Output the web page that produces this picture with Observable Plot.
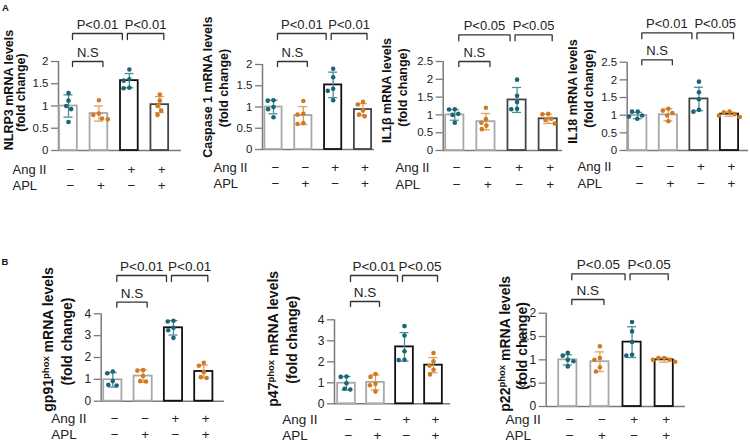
<!DOCTYPE html>
<html><head><meta charset="utf-8">
<script src="https://cdn.jsdelivr.net/npm/d3@7"></script>
<script src="https://cdn.jsdelivr.net/npm/@observablehq/plot@0.6"></script>
<style>
html,body{margin:0;padding:0;background:#fff;}
#wrap{position:relative;width:750px;height:442px;overflow:hidden;background:#fff;}
#wrap svg{position:absolute;left:0;top:0;}
</style></head><body><div id="wrap"></div>
<script>
// ---------- data ----------
const groupIds = [1, 2, 3, 4];
const angIISigns = ["−", "−", "+", "+"];
const aplSigns = ["−", "+", "−", "+"];
const rowLabels = ["Ang II", "APL"];
const comparisons = [[1, 2], [1, 3], [3, 4]];
const comparisonTier = [0, 1, 1];
const subtitleLine = "(fold change)";

const ticks2 = [0, 0.5, 1, 1.5, 2];
const ticks25 = [0, 0.5, 1, 1.5, 2, 2.5];
const ticks4 = [0, 1, 2, 3, 4];

const nlrp3Title = "NLRP3 mRNA levels";
const nlrp3Mean = [1.00, 0.83, 1.57, 1.03];
const nlrp3SD = [0.25, 0.17, 0.16, 0.18];
const nlrp3Dots = [[1.29, 1.12, 1.00, 0.93, 0.64], [1.13, 0.83, 0.80, 0.72, 0.70], [1.82, 1.60, 1.57, 1.41, 1.40], [1.26, 1.12, 1.00, 0.90, 0.80]];
const nlrp3P = ["N.S", "P<0.01", "P<0.01"];

const casp1Title = "Caspase 1 mRNA levels";
const casp1Mean = [1.00, 0.80, 1.52, 0.94];
const casp1SD = [0.16, 0.21, 0.30, 0.14];
const casp1Dots = [[1.16, 1.15, 1.00, 0.95, 0.76], [1.14, 0.84, 0.82, 0.62, 0.60], [1.90, 1.70, 1.43, 1.38, 1.16], [1.12, 1.06, 0.92, 0.82, 0.78]];
const casp1P = ["N.S", "P<0.01", "P<0.01"];

const il1bTitle = "IL1β mRNA levels";
const il1bMean = [1.00, 0.81, 1.42, 0.89];
const il1bSD = [0.15, 0.23, 0.35, 0.13];
const il1bDots = [[1.16, 1.15, 1.03, 1.00, 0.78], [1.20, 0.88, 0.78, 0.70, 0.60], [1.99, 1.54, 1.36, 1.17, 1.16], [1.03, 1.02, 0.89, 0.86, 0.76]];
const il1bP = ["N.S", "P<0.05", "P<0.05"];

const il18Title = "IL18 mRNA levels";
const il18Mean = [0.99, 1.01, 1.46, 1.03];
const il18SD = [0.09, 0.17, 0.33, 0.06];
const il18Dots = [[1.10, 1.10, 0.99, 0.96, 0.90], [1.18, 1.13, 1.06, 0.99, 0.83], [1.95, 1.65, 1.45, 1.15, 1.10], [1.10, 1.08, 1.03, 0.99, 0.95]];
const il18P = ["N.S", "P<0.01", "P<0.05"];

const gp91Title = "gp91phox mRNA levels";
const gp91Mean = [0.98, 1.15, 3.36, 1.36];
const gp91SD = [0.33, 0.29, 0.33, 0.29];
const gp91Dots = [[1.36, 1.28, 0.92, 0.75, 0.72], [1.42, 1.40, 1.15, 0.92, 0.90], [3.68, 3.65, 3.36, 3.25, 2.90], [1.76, 1.62, 1.33, 1.10, 1.06]];
const gp91P = ["N.S", "P<0.01", "P<0.01"];

const p47Title = "p47phox mRNA levels";
const p47Mean = [0.98, 1.02, 2.71, 1.84];
const p47SD = [0.32, 0.36, 0.68, 0.36];
const p47Dots = [[1.30, 1.28, 0.98, 0.72, 0.68], [1.42, 1.28, 0.95, 0.88, 0.58], [3.70, 3.25, 2.50, 2.10, 2.08], [2.42, 2.02, 1.82, 1.62, 1.40]];
const p47P = ["N.S", "P<0.01", "P<0.05"];

const p22Title = "p22phox mRNA levels";
const p22Mean = [1.00, 0.96, 1.38, 1.00];
const p22SD = [0.11, 0.21, 0.33, 0.05];
const p22Dots = [[1.15, 1.09, 1.00, 0.97, 0.86], [1.29, 1.04, 1.00, 0.84, 0.75], [1.81, 1.61, 1.38, 1.11, 1.09], [1.04, 1.04, 1.00, 1.00, 0.96]];
const p22P = ["N.S", "P<0.05", "P<0.05"];

// ---------- styles / layout ----------
const GRAY = "#a8a8a8", BLACK = "#111111", DARK = "#454545";
const TEAL = "#1b6575", TEAL_ERR = "#4a8e9b", ORANGE = "#d17a22", ORANGE_ERR = "#e0a060";
const AXIS = "#7a7a7a", INK = "#222";
const FONT = "'Liberation Sans', Arial, Helvetica, sans-serif";

const panels = [
  {letter: "A", title: nlrp3Title, mean: nlrp3Mean, sd: nlrp3SD, dots: nlrp3Dots, p: nlrp3P, ticks: ticks2, yMax: 2,
   L: 58, R: 181, y0: 150, yTop: 61, c1: 68, c4: 159.3, barW: 19.5, nsY: 61, pY: 33, rowY: [169, 185], rowX: 12,
   lab: [8.7, 89.5, 20.8, 92], labSize: 12.5, tickSize: 11.5, textSize: 13, signSize: 13.5, strokes: [GRAY, GRAY, BLACK, DARK], letterPos: [5, 7]},
  {title: casp1Title, mean: casp1Mean, sd: casp1SD, dots: casp1Dots, p: casp1P, ticks: ticks2, yMax: 2,
   L: 262, R: 374, y0: 149, yTop: 64, c1: 273, c4: 362.5, barW: 19, nsY: 61, pY: 33, rowY: [167, 183], rowX: 213,
   lab: [207, 86.7, 223.7, 87.5], labSize: 12.5, tickSize: 11.5, textSize: 13, signSize: 13.5, strokes: [GRAY, GRAY, BLACK, DARK]},
  {title: il1bTitle, mean: il1bMean, sd: il1bSD, dots: il1bDots, p: il1bP, ticks: ticks25, yMax: 2.5,
   L: 442.7, R: 562, y0: 150, yTop: 61, c1: 454.3, c4: 547.7, barW: 20, nsY: 61, pY: 34.3, rowY: [167, 184], rowX: 395,
   lab: [386.7, 90, 402, 87], labSize: 12.5, tickSize: 11.5, textSize: 13, signSize: 13.5, strokes: [GRAY, GRAY, DARK, DARK]},
  {title: il18Title, mean: il18Mean, sd: il18SD, dots: il18Dots, p: il18P, ticks: ticks25, yMax: 2.5,
   L: 626.7, R: 748, y0: 150, yTop: 61.7, c1: 637.3, c4: 729, barW: 20, nsY: 59.3, pY: 32.3, rowY: [166, 183], rowX: 577,
   lab: [572.3, 91, 588, 88], labSize: 12.5, tickSize: 11.5, textSize: 13, signSize: 13.5, strokes: [GRAY, GRAY, DARK, BLACK]},
  {letter: "B", title: gp91Title, mean: gp91Mean, sd: gp91SD, dots: gp91Dots, p: gp91P, ticks: ticks4, yMax: 4,
   L: 100.7, R: 224, y0: 400.7, yTop: 313.3, c1: 112.3, c4: 203.3, barW: 20, nsY: 301.7, pY: 275, rowY: [418.5, 434.5], rowX: 50.7,
   lab: [48.3, 339, 66.7, 341], labSize: 14, tickSize: 12, textSize: 13.5, signSize: 13.5, strokes: [GRAY, GRAY, BLACK, BLACK], letterPos: [4.5, 261.5]},
  {title: p47Title, mean: p47Mean, sd: p47SD, dots: p47Dots, p: p47P, ticks: ticks4, yMax: 4,
   L: 334, R: 450, y0: 403.3, yTop: 319.3, c1: 346, c4: 433, barW: 19.5, nsY: 301, pY: 275, rowY: [419, 435], rowX: 281.7,
   lab: [273.3, 338.3, 291.7, 339.2], labSize: 14, tickSize: 12, textSize: 13.5, signSize: 13.5, strokes: [GRAY, GRAY, BLACK, BLACK]},
  {title: p22Title, mean: p22Mean, sd: p22SD, dots: p22Dots, p: p22P, ticks: ticks2, yMax: 2,
   L: 545.7, R: 685, y0: 406, yTop: 312.7, c1: 567.3, c4: 663.7, barW: 20, nsY: 299, pY: 273.3, rowY: [419, 435], rowX: 505,
   lab: [505, 343.3, 522.3, 345.5], labSize: 14, tickSize: 12, textSize: 13.5, signSize: 13.5, strokes: [GRAY, GRAY, BLACK, BLACK]}
];

// deterministic beeswarm offsets (pixels) so dots do not overlap
function swarm(values, ppu, D) {
  const order = values.map((v, i) => i).sort((a, b) => values[b] - values[a]);
  const placed = [], off = new Array(values.length);
  for (const i of order) {
    const py = -values[i] * ppu;
    const iv = [];
    for (const p of placed) {
      const dy = py - p.py;
      if (Math.abs(dy) < D) { const w = Math.sqrt(D * D - dy * dy); iv.push([p.px - w, p.px + w]); }
    }
    const cands = [0].concat(iv.flatMap(([a, b]) => [a, b])).sort((a, b) => Math.abs(a) - Math.abs(b));
    const px = cands.find(c => iv.every(([a, b]) => c <= a + 1e-6 || c >= b - 1e-6));
    placed.push({px, py}); off[i] = px;
  }
  return off;
}

const wrap = document.getElementById("wrap");

for (const P of panels) {
  const s = (P.c4 - P.c1) / 3;               // pixels per group step
  const xDom = [1 - (P.c1 - P.L) / s, 4 + (P.R - P.c4) / s];
  const ppu = (P.y0 - P.yTop) / P.yMax;       // pixels per y unit
  const yAt = px => (P.y0 - px) / ppu;        // pixel row -> y value
  const ux = px => px / s;                    // pixel length -> x units
  const hw = ux(P.barW / 2 - 0.9);
  const cap = ux(4.5);

  const bars = groupIds.map((g, i) => ({
    g, mean: P.mean[i], sd: P.sd[i], stroke: P.strokes[i],
    err: i % 2 ? ORANGE_ERR : TEAL_ERR
  }));

  const dots = [];
  groupIds.forEach((g, i) => {
    const off = swarm(P.dots[i], ppu, 5.8);
    P.dots[i].forEach((v, j) => dots.push({x: g + ux(off[j]), v, fill: i % 2 ? ORANGE : TEAL}));
  });

  const brackets = comparisons.map(([a, b], k) => {
    const another = comparisons.some(([a2]) => a2 === b);
    const endsHere = comparisons.some(([, b2]) => b2 === a);
    const xa = a + ux(endsHere ? -2 : 4);
    const xb = b + ux(another ? -7 : 4);
    const tier = comparisonTier[k];
    const lineY = tier === 0 ? P.nsY : P.pY;
    const legY = lineY + (tier === 0 ? 5 : 6);
    return {k, xa, xb, yLine: yAt(lineY), yLeg: yAt(legY), label: P.p[k], mid: (xa + xb) / 2};
  });
  const bracketPts = brackets.flatMap(b => [
    {id: b.k, x: b.xa, y: b.yLeg}, {id: b.k, x: b.xa, y: b.yLine},
    {id: b.k, x: b.xb, y: b.yLine}, {id: b.k, x: b.xb, y: b.yLeg}
  ]);

  const txt = {fill: INK, lineAnchor: "middle"};
  const marks = [
    Plot.ruleY([0], {stroke: AXIS, strokeWidth: 1.5}),
    Plot.ruleX([xDom[0]], {y1: 0, y2: P.yMax, stroke: AXIS, strokeWidth: 1.5}),
    Plot.rect(bars, {x1: d => d.g - hw, x2: d => d.g + hw, y1: 0, y2: "mean", fill: "white", stroke: "stroke", strokeWidth: 1.8}),
    Plot.ruleX(bars, {x: "g", y1: d => d.mean - d.sd, y2: d => d.mean + d.sd, stroke: "err", strokeWidth: 1.3}),
    Plot.ruleY(bars, {y: d => d.mean + d.sd, x1: d => d.g - cap, x2: d => d.g + cap, stroke: "err", strokeWidth: 1.3}),
    Plot.ruleY(bars, {y: d => d.mean - d.sd, x1: d => d.g - cap, x2: d => d.g + cap, stroke: "err", strokeWidth: 1.3}),
    Plot.dot(dots, {x: "x", y: "v", r: 2.3, fill: "fill", stroke: null}),
    Plot.line(bracketPts, {x: "x", y: "y", z: "id", stroke: "#333", strokeWidth: 1.3, strokeLinejoin: "miter", curve: "linear"}),
    Plot.text(brackets, {x: "mid", y: "yLine", text: "label", dy: -4.5, lineAnchor: "bottom", textAnchor: "middle", fontSize: P.textSize, fill: INK}),
    Plot.text(groupIds, {...txt, x: d => d, text: (d, i) => angIISigns[i], frameAnchor: "bottom", textAnchor: "middle", dx: 2, dy: P.rowY[0] - P.y0, fontSize: P.signSize}),
    Plot.text(groupIds, {...txt, x: d => d, text: (d, i) => aplSigns[i], frameAnchor: "bottom", textAnchor: "middle", dx: 2, dy: P.rowY[1] - P.y0, fontSize: P.signSize}),
    Plot.text([rowLabels[0]], {...txt, frameAnchor: "bottom-left", dx: P.rowX - P.L, dy: P.rowY[0] - P.y0, textAnchor: "start", fontSize: P.textSize}),
    Plot.text([rowLabels[1]], {...txt, frameAnchor: "bottom-left", dx: P.rowX - P.L, dy: P.rowY[1] - P.y0, textAnchor: "start", fontSize: P.textSize}),
    Plot.text([P.title], {frameAnchor: "top-left", rotate: -90, textAnchor: "middle", lineAnchor: "middle", dx: P.lab[0] - P.L, dy: P.lab[1] - P.yTop, fontWeight: "bold", fontSize: P.labSize, fill: "#111"}),
    Plot.text([subtitleLine], {frameAnchor: "top-left", rotate: -90, textAnchor: "middle", lineAnchor: "middle", dx: P.lab[2] - P.L, dy: P.lab[3] - P.yTop, fontWeight: "bold", fontSize: P.labSize, fill: "#111"})
  ];
  if (P.letter) {
    marks.push(Plot.text([P.letter], {frameAnchor: "top-left", textAnchor: "middle", lineAnchor: "middle", dx: P.letterPos[0] - P.L, dy: P.letterPos[1] - P.yTop, fontWeight: "bold", fontSize: 9.5, fill: "#111"}));
  }

  const svg = Plot.plot({
    width: 750, height: 442,
    marginLeft: P.L, marginRight: 750 - P.R, marginTop: P.yTop, marginBottom: 442 - P.y0,
    x: {domain: xDom, axis: null},
    y: {domain: [0, P.yMax], ticks: P.ticks, tickFormat: d => String(d), tickSize: 7, tickPadding: 3, label: null},
    color: {type: "identity"},
    style: {background: "transparent", fontFamily: FONT, fontSize: P.tickSize + "px", color: INK, overflow: "visible"},
    marks
  });

  // tick marks gray like the reference
  svg.querySelectorAll('[aria-label="y-axis tick"] path, [aria-label="y-axis"] line, [aria-label="y-axis tick"] line')
    .forEach(e => { e.setAttribute("stroke", AXIS); e.setAttribute("stroke-width", "1.3"); });

  // superscript "phox"
  svg.querySelectorAll("text").forEach(t => {
    const s0 = t.textContent;
    const k = s0.indexOf("phox");
    if (k > 0 && t.children.length === 0) {
      const before = s0.slice(0, k), after = s0.slice(k + 4);
      t.textContent = "";
      const ns = "http://www.w3.org/2000/svg";
      const t1 = document.createElementNS(ns, "tspan"); t1.textContent = before;
      const t2 = document.createElementNS(ns, "tspan"); t2.textContent = "phox";
      t2.setAttribute("font-size", "0.68em"); t2.setAttribute("dy", "-4.5"); t2.setAttribute("font-weight", "bold");
      const t3 = document.createElementNS(ns, "tspan"); t3.textContent = after; t3.setAttribute("dy", "4.5");
      t.append(t1, t2, t3);
    }
  });

  wrap.appendChild(svg);
}
</script>
</body></html>
